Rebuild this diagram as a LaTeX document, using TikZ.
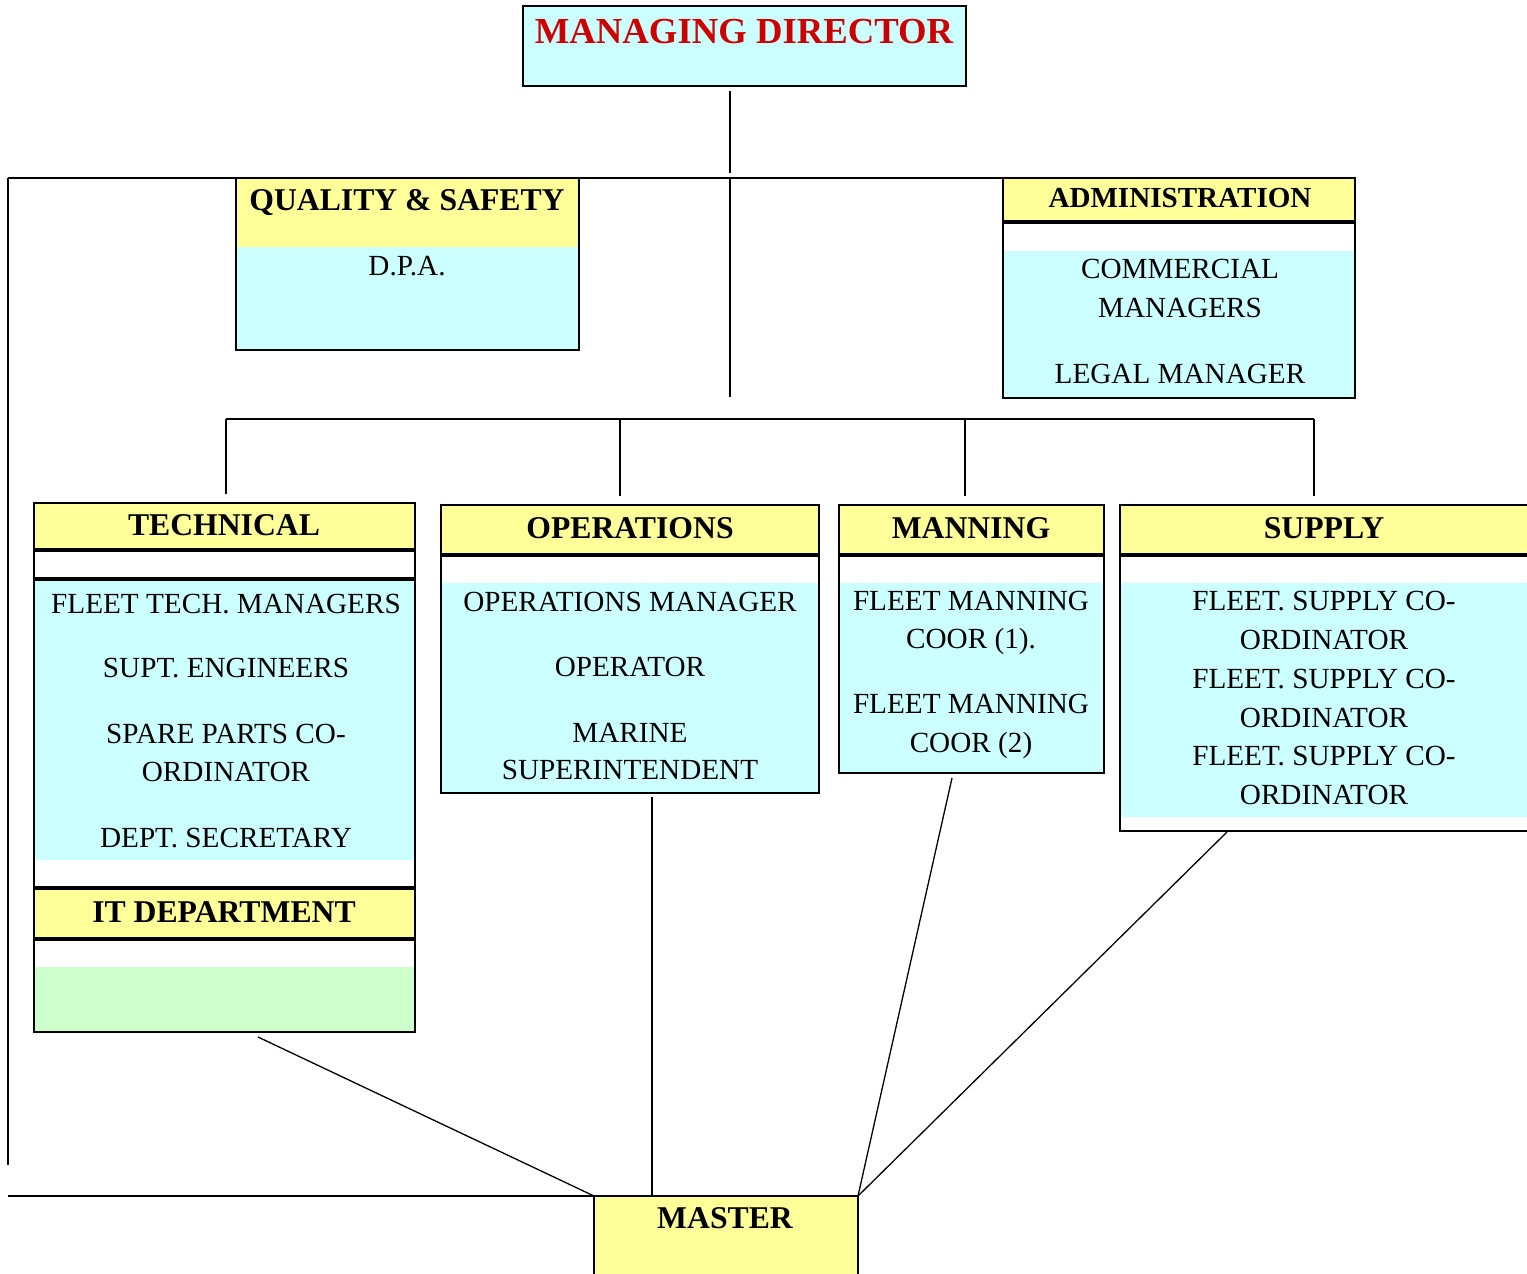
\documentclass[tikz,border=0pt]{standalone}
\usepackage{fontspec}
\setmainfont{Liberation Serif}
\usetikzlibrary{positioning, calc, fit}
\definecolor{cyanbg}{HTML}{CCFFFF}
\definecolor{yellowbg}{HTML}{FFFF99}
\definecolor{greenbg}{HTML}{CCFFCC}
\definecolor{titlered}{HTML}{CC0000}
\newcommand\headfont{\fontsize{15.85}{19}\selectfont\bfseries}
\newcommand\itemfont{\fontsize{14.6}{19}\selectfont}

\begin{document}
\begin{tikzpicture}[x=0.5pt, y=-0.5pt,
	unit/.style={inner sep=0pt, outer sep=0pt, fill=cyanbg},
	frame/.style={draw, line width=1pt},
	rule/.style={line width=1.9pt},
	link/.style={line width=0.65pt},
	bar/.style={line width=1pt},
	head/.style={anchor=base, font=\headfont},
	item/.style={anchor=base, font=\itemfont}]

	\useasboundingbox (0,0) rectangle (1527,1274);

	% boxes
	\node[unit, fit={(523,6) (966,86)}] (md) {};
	\node[unit, fit={(236,178) (579,350)}] (qs) {};
	\node[unit, fit={(1003,178) (1355,398)}] (admin) {};
	\node[unit, fit={(34,503) (415,1032)}] (tech) {};
	\node[unit, fit={(441,505) (819,793)}] (ops) {};
	\node[unit, fit={(839,505) (1104,773)}] (man) {};
	\node[unit, fit={(1120,505) (1527,831)}] (sup) {};
	\node[unit, fill=yellowbg, fit={(594,1196) (858,1274)}] (master) {};

	% bands
	\fill[yellowbg] (236,178) rectangle (579,247);
	\fill[yellowbg] (1003,178) rectangle (1355,222);
	\fill[white] (1003,222) rectangle (1355,251);
	\fill[yellowbg] (34,503) rectangle (415,550);
	\fill[white] (34,550) rectangle (415,579);
	\fill[white] (34,860) rectangle (415,888);
	\fill[yellowbg] (34,888) rectangle (415,939);
	\fill[white] (34,939) rectangle (415,967);
	\fill[greenbg] (34,967) rectangle (415,1032);
	\foreach \l/\r in {441/819, 839/1104, 1120/1527} {
		\fill[yellowbg] (\l,505) rectangle (\r,555);
		\fill[white] (\l,555) rectangle (\r,583);
		\draw[rule] (\l,555) -- (\r,555);
	}
	\fill[white] (1120,817) rectangle (1527,831);
	\draw[rule] (1003,222) -- (1355,222);
	\foreach \y in {550,579,888,939}
		\draw[rule] (34,\y) -- (415,\y);

	% frames
	\foreach \n in {md, qs, admin, tech, ops, man}
		\draw[frame] (\n.north west) rectangle (\n.south east);
	\draw[frame] (sup.north east) -- (sup.north west) -- (sup.south west) -- (sup.south east);
	\draw[frame] (master.south west) -- (master.north west) -- (master.north east) -- (master.south east);

	% connectors
	\coordinate (md-foot) at (730,91);
	\coordinate (md-knee) at (730,173);
	\coordinate (hub) at (730,178);
	\coordinate (west) at (8,178);
	\coordinate (west-foot) at (8,1165);
	\coordinate (bus-top) at (730,397);
	\coordinate (it-foot) at (258,1037);
	\coordinate (ops-foot) at (652,797);
	\coordinate (man-foot) at (952,778);
	\coordinate (sup-foot) at (1227,832);

	\draw[link] (md-foot) -- (md-knee);
	\draw[bar] (west) -- (west -| admin.north west);
	\draw[link] (hub) -- (bus-top);
	\draw[link] (west) -- (west-foot);
	\draw[bar] (master.north west -| west) -- (master.north west);
	\draw[link] (226,419) -- (1314,419);
	\foreach \x/\n in {226/tech, 620/ops, 965/man, 1314/sup}
		\draw[link, shorten >=4.5pt] (\x,419) -- (\x,419 |- \n.north);
	\draw[link] (it-foot) -- (master.north west);
	\draw[link] (ops-foot) -- (ops-foot |- master.north);
	\draw[link] (man-foot) -- (master.north east);
	\draw[link] (sup-foot) -- (master.north east);

	% texts
	\node[anchor=base, text=titlered, font=\fontsize{18.35}{22}\selectfont\bfseries] (md-title) at (744,43) {MANAGING DIRECTOR};
	\node[head] (qs-head) at (407,210) {QUALITY \& SAFETY};
	\node[item] (qs-1) at (407,275) {D.P.A.};
	\node[head, font=\fontsize{14.55}{19}\selectfont\bfseries] (admin-head) at (1180,207) {ADMINISTRATION};
	\foreach \y/\t [count=\i] in {278/COMMERCIAL, 317/MANAGERS, 383/LEGAL MANAGER}
		\node[item] (admin-\i) at (1180,\y) {\t};
	\node[head] (tech-head) at (224,535) {TECHNICAL};
	\foreach \y/\t [count=\i] in {613/FLEET TECH. MANAGERS, 677/SUPT. ENGINEERS, 743/SPARE PARTS CO-, 781/ORDINATOR, 847/DEPT. SECRETARY}
		\node[item] (tech-\i) at (226,\y) {\t};
	\node[head] (it-head) at (224,922) {IT DEPARTMENT};
	\node[head] (ops-head) at (630,538) {OPERATIONS};
	\foreach \y/\t [count=\i] in {611/OPERATIONS MANAGER, 676/OPERATOR, 742/MARINE, 779/SUPERINTENDENT}
		\node[item] (ops-\i) at (630,\y) {\t};
	\node[head] (man-head) at (971,538) {MANNING};
	\foreach \y/\t [count=\i] in {610/FLEET MANNING, 648/COOR (1)., 713/FLEET MANNING, 752/COOR (2)}
		\node[item] (man-\i) at (971,\y) {\t};
	\node[head] (sup-head) at (1324,538) {SUPPLY};
	\foreach \y/\t [count=\i] in {610/FLEET. SUPPLY CO-, 649/ORDINATOR, 688/FLEET. SUPPLY CO-, 727/ORDINATOR, 765/FLEET. SUPPLY CO-, 804/ORDINATOR}
		\node[item] (sup-\i) at (1324,\y) {\t};
	\node[head] (master-head) at (725,1228) {MASTER};
\end{tikzpicture}
\end{document}
